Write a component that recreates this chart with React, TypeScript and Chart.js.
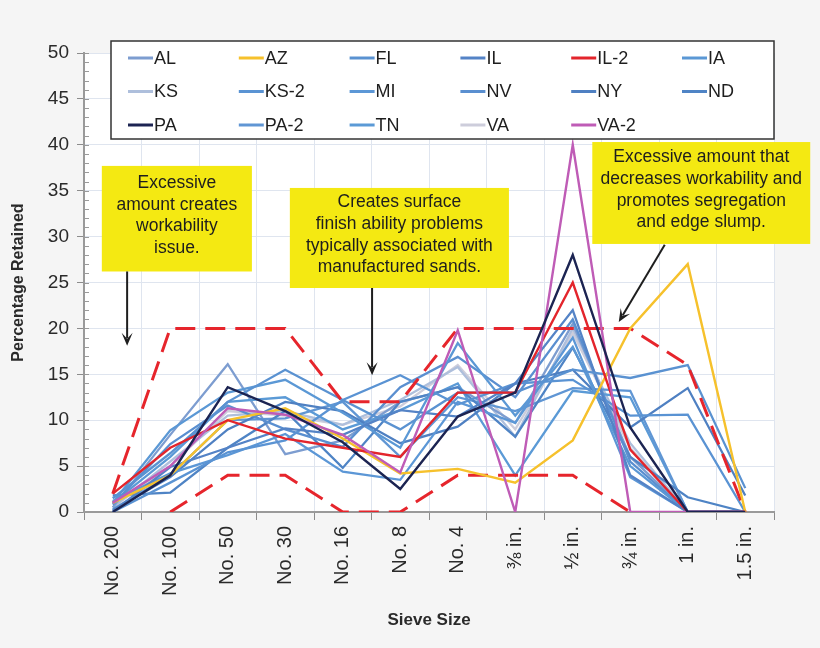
import { useEffect, useRef } from 'react';
import { Chart, registerables } from 'chart.js';

Chart.register(...registerables);

// Sieve sizes along the x axis
const sieveSizes = ['No. 200', 'No. 100', 'No. 50', 'No. 30', 'No. 16', 'No. 8', 'No. 4', '⅜ in.', '½ in.', '¾ in.', '1 in.', '1.5 in.'];

// Percentage retained on each sieve, per aggregate source
const al = [0.5, 8.4, 16.1, 6.3, 7.8, 12.0, 13.6, 9.7, 20.5, 6.0, 0.0, 0.0];
const az = [1.0, 4.0, 10.0, 11.3, 8.0, 4.2, 4.7, 3.2, 7.8, 20.0, 27.0, 0.0];
const fl = [1.5, 6.4, 12.0, 15.5, 12.2, 9.0, 13.0, 13.0, 15.5, 14.6, 16.0, 2.6];
const il = [0.0, 4.9, 7.0, 9.1, 8.4, 11.1, 10.4, 14.0, 22.0, 4.0, 0.0, 0.0];
const il2 = [2.0, 7.0, 10.0, 8.0, 7.0, 6.0, 13.0, 13.0, 25.0, 6.8, 0.0, 0.0];
const ia = [1.0, 8.9, 13.0, 14.4, 10.8, 7.0, 18.4, 10.5, 18.0, 5.0, 0.0, 0.0];
const ks = [0.5, 5.5, 10.5, 11.0, 9.5, 12.2, 15.8, 8.2, 20.0, 7.5, 0.0, 0.0];
const ks2 = [0.0, 3.2, 6.5, 7.8, 12.2, 14.9, 11.7, 14.0, 14.4, 10.5, 10.6, 0.0];
const mi = [1.2, 4.2, 6.2, 8.5, 4.4, 3.5, 12.0, 9.7, 19.0, 3.8, 0.0, 0.0];
const nv = [0.8, 7.4, 11.6, 9.0, 7.1, 13.6, 16.9, 12.5, 21.0, 5.5, 0.0, 0.0];
const ny = [0.2, 3.8, 9.0, 12.0, 11.0, 7.5, 9.3, 14.0, 15.5, 9.2, 13.5, 1.8];
const nd = [1.8, 2.1, 7.0, 11.0, 4.8, 12.0, 13.6, 8.2, 17.9, 6.0, 1.6, 0.0];
const pa = [0.0, 4.0, 13.6, 11.0, 7.6, 2.5, 10.4, 13.0, 28.0, 9.2, 0.0, 0.0];
const pa2 = [0.3, 4.0, 10.0, 10.2, 12.0, 6.0, 12.5, 11.0, 13.5, 13.2, 0.0, 0.0];
const tn = [1.0, 6.0, 12.0, 12.5, 9.0, 11.1, 14.0, 4.0, 13.2, 12.5, 0.0, 0.0];
const va = [0.5, 5.0, 11.0, 10.5, 9.5, 11.5, 16.0, 9.0, 19.5, 7.0, 0.0, 0.0];
const va2 = [1.0, 5.0, 11.3, 10.6, 8.4, 4.3, 19.8, 0.0, 40.0, 0.0, 0.0, 0.0];

// Gradation band limits (dashed red)
const upperLimit = [2, 20, 20, 20, 12, 12, 20, 20, 20, 20, 16, 0];
const lowerLimit = [null, 0, 4, 4, 0, 0, 4, 4, 4, 0, null, null];

const yMin = 0;
const yMax = 50;
const yStep = 5;

const FONT = '"Liberation Sans", Arial, Helvetica, sans-serif';

type Series = { label: string; data: number[]; color: string; order: number };

const series: Series[] = [
  { label: 'AL', data: al, color: '#7d9dd0', order: 20 },
  { label: 'AZ', data: az, color: '#f6c12c', order: 3 },
  { label: 'FL', data: fl, color: '#5a92d1', order: 10 },
  { label: 'IL', data: il, color: '#5483c6', order: 11 },
  { label: 'IL-2', data: il2, color: '#e3252c', order: 2 },
  { label: 'IA', data: ia, color: '#5b98d5', order: 12 },
  { label: 'KS', data: ks, color: '#aebfdc', order: 21 },
  { label: 'KS-2', data: ks2, color: '#5a93d3', order: 13 },
  { label: 'MI', data: mi, color: '#5c97d6', order: 14 },
  { label: 'NV', data: nv, color: '#5a8fd0', order: 15 },
  { label: 'NY', data: ny, color: '#4f80c2', order: 16 },
  { label: 'ND', data: nd, color: '#4f84c5', order: 17 },
  { label: 'PA', data: pa, color: '#1c2452', order: 0 },
  { label: 'PA-2', data: pa2, color: '#6096d4', order: 18 },
  { label: 'TN', data: tn, color: '#5b9ad6', order: 19 },
  { label: 'VA', data: va, color: '#cdcddb', order: 22 },
  { label: 'VA-2', data: va2, color: '#bf5cb6', order: 1 },
];

const notes = [
  { lines: ['Excessive', 'amount creates', 'workability', 'issue.'], box: [-0.19, 37.7, 2.42, 26.2], arrow: [0.25, 26.2, 0.25, 18.1] },
  { lines: ['Creates surface', 'finish ability problems', 'typically associated with', 'manufactured sands.'], box: [3.08, 35.3, 6.89, 24.4], arrow: [4.51, 24.4, 4.51, 14.9] },
  { lines: ['Excessive amount that', 'decreases workability and', 'promotes segregation', 'and edge slump.'], box: [8.34, 40.3, 12.13, 29.2], arrow: [9.6, 29.1, 8.8, 20.7] },
];

function drawArrow(ctx: CanvasRenderingContext2D, x1: number, y1: number, x2: number, y2: number) {
  const ang = Math.atan2(y2 - y1, x2 - x1);
  const c = Math.cos(ang);
  const s = Math.sin(ang);
  const len = 13;
  const hw = 5.5;
  ctx.beginPath();
  ctx.moveTo(x1, y1);
  ctx.lineTo(x2 - c * len * 0.6, y2 - s * len * 0.6);
  ctx.stroke();
  ctx.beginPath();
  ctx.moveTo(x2, y2);
  ctx.lineTo(x2 - c * len - s * hw, y2 - s * len + c * hw);
  ctx.lineTo(x2 - c * len * 0.55, y2 - s * len * 0.55);
  ctx.lineTo(x2 - c * len + s * hw, y2 - s * len - c * hw);
  ctx.closePath();
  ctx.fill();
}

const decorPlugin = {
  id: 'decor',
  beforeDraw(chart: any) {
    const { ctx, chartArea: a, width, height } = chart;
    ctx.save();
    ctx.fillStyle = '#f5f5f5';
    ctx.fillRect(0, 0, width, height);
    ctx.fillStyle = '#ffffff';
    ctx.fillRect(a.left, a.top, a.right - a.left, a.bottom - a.top);
    ctx.restore();
  },
  afterDraw(chart: any) {
    const { ctx, chartArea: a } = chart;
    const xs = chart.scales.x;
    const ys = chart.scales.y;
    ctx.save();

    // minor ticks on the value axis
    ctx.strokeStyle = '#9a9a9a';
    ctx.lineWidth = 1;
    for (let v = yMin; v <= yMax; v += 1) {
      const y = Math.round(ys.getPixelForValue(v)) + 0.5;
      ctx.beginPath();
      ctx.moveTo(a.left, y);
      ctx.lineTo(a.left + 5, y);
      ctx.stroke();
    }

    // callout boxes with arrows
    ctx.font = `17.5px ${FONT}`;
    ctx.textAlign = 'center';
    ctx.textBaseline = 'middle';
    for (const n of notes) {
      const bx0 = xs.getPixelForValue(n.box[0]);
      const by0 = ys.getPixelForValue(n.box[1]);
      const bx1 = xs.getPixelForValue(n.box[2]);
      const by1 = ys.getPixelForValue(n.box[3]);
      ctx.fillStyle = '#f4e912';
      ctx.fillRect(bx0, by0, bx1 - bx0, by1 - by0);
      ctx.fillStyle = '#1e1e1e';
      const cx = (bx0 + bx1) / 2;
      const cy = (by0 + by1) / 2 - 3;
      const lh = 21.7;
      n.lines.forEach((t, i) => {
        ctx.fillText(t, cx, cy + (i - (n.lines.length - 1) / 2) * lh);
      });
      ctx.strokeStyle = '#1e1e1e';
      ctx.fillStyle = '#1e1e1e';
      ctx.lineWidth = 2;
      drawArrow(
        ctx,
        xs.getPixelForValue(n.arrow[0]),
        ys.getPixelForValue(n.arrow[1]),
        xs.getPixelForValue(n.arrow[2]),
        ys.getPixelForValue(n.arrow[3])
      );
    }

    // legend box
    const lx0 = a.left + 27;
    const ly0 = a.top - 12;
    const lx1 = a.right;
    const ly1 = a.top + 86;
    ctx.fillStyle = '#ffffff';
    ctx.fillRect(lx0, ly0, lx1 - lx0, ly1 - ly0);
    ctx.strokeStyle = '#333333';
    ctx.lineWidth = 1.5;
    ctx.strokeRect(lx0, ly0, lx1 - lx0, ly1 - ly0);
    ctx.font = `18px ${FONT}`;
    ctx.textAlign = 'left';
    ctx.textBaseline = 'middle';
    series.forEach((sr, i) => {
      const col = i % 6;
      const row = Math.floor(i / 6);
      const x = lx0 + 17 + col * 110.8;
      const y = ly0 + 17 + row * 33.5;
      ctx.strokeStyle = sr.color;
      ctx.lineWidth = 3;
      ctx.beginPath();
      ctx.moveTo(x, y);
      ctx.lineTo(x + 25, y);
      ctx.stroke();
      ctx.fillStyle = '#1e1e1e';
      ctx.fillText(sr.label, x + 26, y + 1);
    });
    ctx.restore();
  },
};

export default function App() {
  const canvasRef = useRef<HTMLCanvasElement | null>(null);

  useEffect(() => {
    const canvas = canvasRef.current;
    if (!canvas) return;

    const datasets: any[] = series.map((sr) => ({
      label: sr.label,
      data: sr.data,
      borderColor: sr.color,
      backgroundColor: sr.color,
      borderWidth: sr.label === 'PA' || sr.label === 'VA-2' || sr.label === 'IL-2' || sr.label === 'AZ' ? 2.4 : 2.3,
      pointRadius: 0,
      tension: 0,
      fill: false,
      order: sr.order,
    }));
    const limitStyle = {
      borderColor: '#e6252c',
      backgroundColor: '#e6252c',
      borderWidth: 3,
      borderDash: [20, 10],
      pointRadius: 0,
      tension: 0,
      fill: false,
      spanGaps: false,
      order: 4,
    };
    datasets.push({ label: 'Upper limit', data: upperLimit, ...limitStyle });
    datasets.push({ label: 'Lower limit', data: lowerLimit, ...limitStyle });

    const chart = new Chart(canvas, {
      type: 'line',
      data: { labels: sieveSizes, datasets },
      plugins: [decorPlugin],
      options: {
        responsive: false,
        animation: false,
        devicePixelRatio: 1,
        layout: { padding: { top: 53, right: 46, left: 0, bottom: 0 } },
        plugins: {
          legend: { display: false },
          tooltip: { enabled: false },
        },
        scales: {
          x: {
            type: 'category',
            offset: true,
            afterFit: (scale: any) => {
              scale.height = 136;
            },
            grid: {
              offset: true,
              color: '#dfe5ef',
              lineWidth: 1,
              tickColor: '#8c8c8c',
              tickLength: 8,
            },
            border: { color: '#9a9a9a', width: 2 },
            ticks: {
              autoSkip: false,
              maxRotation: 90,
              minRotation: 90,
              padding: 6,
              color: '#2a2a2a',
              font: { family: FONT, size: 20 },
            },
            title: {
              display: true,
              text: 'Sieve Size',
              color: '#2a2a2a',
              font: { family: FONT, size: 17, weight: 'bold' },
              padding: { top: 0, bottom: 17 },
            },
          },
          y: {
            min: yMin,
            max: yMax,
            afterFit: (scale: any) => {
              scale.width = 84;
            },
            grid: {
              color: '#dfe5ef',
              lineWidth: 1,
              tickColor: '#8c8c8c',
              tickLength: 7,
            },
            border: { color: '#9a9a9a', width: 2 },
            ticks: {
              stepSize: yStep,
              padding: 8,
              color: '#2a2a2a',
              font: { family: FONT, size: 19 },
            },
            title: {
              display: true,
              text: 'Percentage Retained',
              color: '#2a2a2a',
              font: { family: FONT, size: 16, weight: 'bold' },
              padding: { top: 9, bottom: 0 },
            },
          },
        },
      },
    });

    return () => {
      chart.destroy();
    };
  }, []);

  return (
    <div style={{ position: 'absolute', left: 0, top: 0, width: 820, height: 648, background: '#f5f5f5' }}>
      <canvas ref={canvasRef} width={820} height={648} style={{ display: 'block', width: 820, height: 648 }} />
    </div>
  );
}
